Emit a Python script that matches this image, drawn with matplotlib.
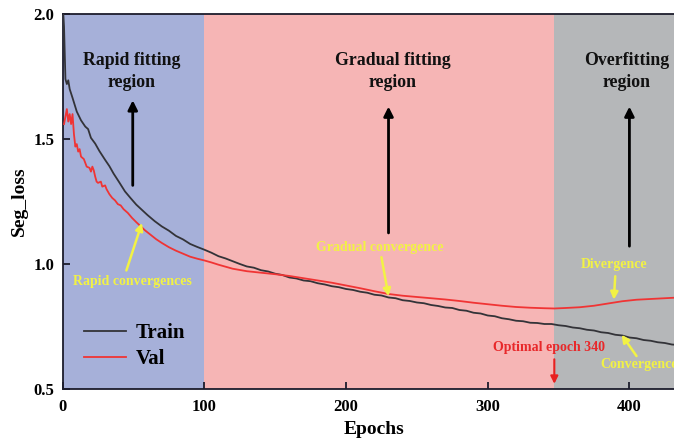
import matplotlib
matplotlib.use("Agg")
import matplotlib.pyplot as plt

# =========================
# データ
# =========================
train_epochs = [0, 1, 2, 3, 4, 5, 7, 10, 13, 16, 18, 20, 23, 26, 30, 33, 36, 40, 44, 48,
                52, 56, 60, 65, 70, 75, 80, 85, 90, 95, 100, 105, 110, 115, 120, 125, 130,
                135, 140, 145, 150, 155, 160, 165, 170, 175, 180, 185, 190, 195, 200, 205,
                210, 215, 220, 225, 230, 235, 240, 245, 250, 255, 260, 265, 270, 275, 280,
                285, 290, 295, 300, 305, 310, 315, 320, 325, 330, 335, 340, 345, 350, 355,
                360, 365, 370, 375, 380, 385, 390, 395, 400, 405, 410, 415, 420, 425, 430,
                435, 440]
train_loss = [2.05, 1.95, 1.74, 1.72, 1.735, 1.70, 1.665, 1.61, 1.575, 1.55, 1.54, 1.505,
              1.482, 1.452, 1.417, 1.392, 1.362, 1.327, 1.291, 1.264, 1.238, 1.217, 1.196,
              1.172, 1.151, 1.134, 1.113, 1.099, 1.081, 1.069, 1.058, 1.046, 1.032, 1.023,
              1.012, 1.001, 0.991, 0.986, 0.976, 0.971, 0.962, 0.957, 0.947, 0.943, 0.935,
              0.932, 0.924, 0.919, 0.912, 0.908, 0.901, 0.897, 0.890, 0.886, 0.878, 0.875,
              0.867, 0.864, 0.856, 0.853, 0.847, 0.844, 0.837, 0.833, 0.827, 0.825, 0.817,
              0.814, 0.806, 0.803, 0.795, 0.792, 0.784, 0.780, 0.774, 0.772, 0.766, 0.765,
              0.761, 0.761, 0.756, 0.753, 0.747, 0.744, 0.738, 0.735, 0.728, 0.725, 0.718,
              0.715, 0.707, 0.704, 0.697, 0.694, 0.688, 0.685, 0.679, 0.677, 0.671]

val_epochs = [1, 2, 3, 4, 5, 6, 7, 8, 9, 10, 11, 12, 13, 15, 17, 19, 20, 21, 22, 23, 24,
              25, 27, 28, 30, 31, 33, 35, 37, 39, 41, 43, 46, 49, 52, 55, 58, 62, 66, 70,
              75, 80, 85, 90, 95, 100, 105, 110, 115, 120, 130, 140, 150, 160, 170, 180,
              190, 200, 210, 220, 230, 240, 250, 260, 270, 280, 290, 300, 310, 320, 330,
              340, 347, 355, 365, 375, 385, 395, 405, 415, 425, 435, 440]
val_loss = [1.56, 1.59, 1.62, 1.57, 1.60, 1.56, 1.60, 1.52, 1.47, 1.48, 1.45, 1.46, 1.43,
            1.42, 1.39, 1.385, 1.37, 1.39, 1.375, 1.35, 1.33, 1.325, 1.33, 1.31, 1.315,
            1.30, 1.28, 1.265, 1.255, 1.24, 1.235, 1.22, 1.205, 1.185, 1.168, 1.152, 1.136,
            1.118, 1.10, 1.085, 1.068, 1.054, 1.042, 1.030, 1.022, 1.015, 1.007, 0.998,
            0.990, 0.982, 0.972, 0.966, 0.960, 0.953, 0.944, 0.935, 0.926, 0.915, 0.904,
            0.892, 0.881, 0.874, 0.869, 0.864, 0.859, 0.853, 0.846, 0.840, 0.834, 0.829,
            0.826, 0.824, 0.823, 0.825, 0.828, 0.834, 0.843, 0.852, 0.858, 0.861, 0.864,
            0.867, 0.868]

# 領域 (境界, 色, タイトル)
region_edges = [0, 100, 347, 440]
region_colors = ["#a6b0d9", "#f6b5b5", "#b5b7b9"]
region_titles = ["Rapid fitting\nregion", "Gradual fitting\nregion", "Overfitting\nregion"]
region_title_x = [49, 233, 398]
region_arrow_x = [49.5, 230, 400]
region_arrow_y = [(1.315, 1.655), (1.125, 1.63), (1.072, 1.63)]

x_ticks = [0, 100, 200, 300, 400]
y_ticks = [0.5, 1.0, 1.5, 2.0]

YELLOW = "#f2f244"
RED_TXT = "#e8282a"
FONT = "Liberation Serif"

# =========================
# 描画
# =========================
plt.rcParams["font.family"] = FONT
plt.rcParams["font.weight"] = "bold"

fig = plt.figure(figsize=(6.74, 4.38), dpi=100)
ax = fig.add_axes([62.6 / 674, 48.7 / 438, 623.5 / 674, 375.3 / 438])

for i in range(3):
    ax.axvspan(region_edges[i], region_edges[i + 1], color=region_colors[i], lw=0, zorder=0)

ax.plot(train_epochs, train_loss, color="#333338", lw=1.3, label="Train", zorder=3)
ax.plot(val_epochs, val_loss, color="#f03434", lw=1.3, label="Val", zorder=3)

ax.set_xlim(0, 440)
ax.set_ylim(0.5, 2.0)
ax.set_xticks(x_ticks)
ax.set_yticks(y_ticks)
ax.set_yticklabels([f"{v:.1f}" for v in y_ticks])
ax.tick_params(direction="in", length=5, width=1.3, labelsize=12, color="#1c1c2c")
ax.tick_params(axis="x", pad=7)
ax.tick_params(axis="y", pad=6)
for sp in ax.spines.values():
    sp.set_linewidth(1.3)
    sp.set_color("#1c1c2c")
ax.spines["right"].set_visible(False)

ax.set_xlabel("Epochs", fontsize=14, fontweight="bold", labelpad=4)
ax.set_ylabel("Seg_loss", fontsize=14, fontweight="bold", labelpad=4)

# 領域タイトルと矢印
for i in range(3):
    ax.text(region_title_x[i], 1.77, region_titles[i], ha="center", va="center",
            fontsize=12.8, fontweight="bold", color="#111111", linespacing=1.4)
    y0, y1 = region_arrow_y[i]
    ax.annotate("", xy=(region_arrow_x[i], y1), xytext=(region_arrow_x[i], y0),
                arrowprops=dict(arrowstyle="-|>", color="black", lw=2, mutation_scale=14,
                                shrinkA=0, shrinkB=0))

# 黄色の注釈
ann_style = dict(arrowstyle="-|>", color=YELLOW, lw=1.8, mutation_scale=11, shrinkA=0, shrinkB=0)
ax.annotate("", xy=(56, 1.165), xytext=(45, 0.975), arrowprops=ann_style)
ax.text(49.5, 0.932, "Rapid convergences", ha="center", va="center", fontsize=10,
        fontweight="bold", color=YELLOW)

ax.annotate("", xy=(230, 0.872), xytext=(225, 1.028), arrowprops=ann_style)
ax.text(224, 1.067, "Gradual convergence", ha="center", va="center", fontsize=10,
        fontweight="bold", color=YELLOW)

ax.annotate("", xy=(389, 0.858), xytext=(390, 0.952), arrowprops=ann_style)
ax.text(389, 1.0, "Divergence", ha="center", va="center", fontsize=10,
        fontweight="bold", color=YELLOW)

# 参照図でも右端で切れている
ax.annotate("", xy=(394.5, 0.718), xytext=(405, 0.633), arrowprops=ann_style)
ax.text(379.5, 0.6, "Convergence", ha="left", va="center", fontsize=10,
        fontweight="bold", color=YELLOW)

# 最適エポック
ax.annotate("", xy=(347, 0.522), xytext=(347, 0.62),
            arrowprops=dict(arrowstyle="-|>", color="#e82020", lw=1.5, mutation_scale=11,
                            shrinkA=0, shrinkB=0))
ax.text(343, 0.666, "Optimal epoch 340", ha="center", va="center", fontsize=10,
        fontweight="bold", color=RED_TXT)

leg = ax.legend(loc="lower left", bbox_to_anchor=(0.004, 0.003), frameon=False,
                fontsize=15, handlelength=2.0, handletextpad=0.5, labelspacing=0.3)
for line in leg.get_lines():
    line.set_linewidth(1.3)

fig.savefig("out.png", dpi=100)
